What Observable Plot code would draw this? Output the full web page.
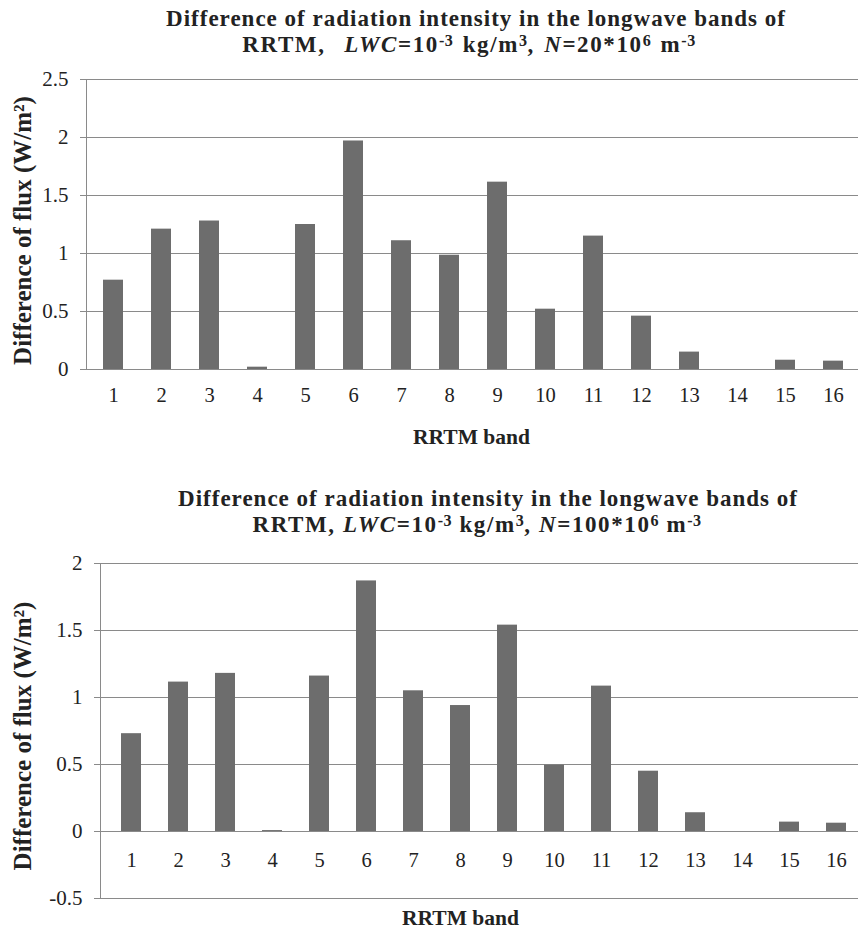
<!DOCTYPE html>
<html>
<head>
<meta charset="utf-8">
<script src="https://cdn.jsdelivr.net/npm/d3@7"></script>
<script src="https://cdn.jsdelivr.net/npm/@observablehq/plot@0.6"></script>
<style>
  html, body { margin: 0; padding: 0; background: #fff; overflow: hidden; }
  #wrap { position: relative; width: 858px; height: 930px; font-family: "Liberation Serif", "Times New Roman", serif; color: #222; }
  #wrap svg, #wrap svg text, #wrap svg tspan { font-family: "Liberation Serif", "Times New Roman", serif !important; }
  .t { position: absolute; width: 858px; text-align: center; font-weight: bold; font-size: 23px; letter-spacing: 1px; line-height: 26px; white-space: nowrap; }
  .t2 { letter-spacing: 1.6px; }
  .t sup { font-size: 0.7em; line-height: 0; vertical-align: 0.38em; letter-spacing: 0.5px; }
  .c { position: absolute; left: 0; }
</style>
</head>
<body>
<div id="wrap">
  <div class="t" style="top:6px;left:47px">Difference of radiation intensity in the longwave bands of</div>
  <div class="t t2" style="top:32px;left:40px;word-spacing:2px">RRTM,&nbsp; <i>LWC</i>=10<sup>-3</sup> kg/m<sup>3</sup>, <i>N</i>=20*10<sup>6</sup> m<sup>-3</sup></div>
  <div class="c" id="c1" style="top:60px"></div>
  <div class="t" style="top:486px;left:59px">Difference of radiation intensity in the longwave bands of</div>
  <div class="t t2" style="top:512px;left:48px">RRTM, <i>LWC</i>=10<sup>-3</sup> kg/m<sup>3</sup>, <i>N</i>=100*10<sup>6</sup> m<sup>-3</sup></div>
  <div class="c" id="c2" style="top:545px"></div>
</div>
<script>
const bands = [1, 2, 3, 4, 5, 6, 7, 8, 9, 10, 11, 12, 13, 14, 15, 16];
const fluxN20 = [0.77, 1.21, 1.28, 0.02, 1.25, 1.97, 1.11, 0.985, 1.615, 0.52, 1.15, 0.46, 0.15, 0, 0.08, 0.072];
const fluxN100 = [0.73, 1.115, 1.18, 0.007, 1.16, 1.87, 1.05, 0.94, 1.54, 0.495, 1.085, 0.45, 0.14, 0, 0.07, 0.062];
const ticksN20 = [0, 0.5, 1, 1.5, 2, 2.5];
const ticksN100 = [-0.5, 0, 0.5, 1, 1.5, 2];
const xTitle = "RRTM band";
const yTitle = "Difference of flux (W/m²)";

const GRID = "#8a8a8a";
const BAR = "#6d6d6d";
const FONT = "Liberation Serif, Times New Roman, serif";

function chart(o) {
  const data = bands.map((b, i) => ({band: b, value: o.values[i]}));
  return Plot.plot({
    width: 858,
    height: o.height,
    marginTop: o.marginTop,
    marginBottom: o.marginBottom,
    marginLeft: o.marginLeft,
    marginRight: o.marginRight,
    style: "font-family: 'Liberation Serif', 'Times New Roman', serif; font-size: 20px; color: #222; background: transparent;",
    x: {type: "band", domain: bands, paddingInner: 0.58, paddingOuter: 0.29, axis: null},
    y: {domain: o.domain, label: null},
    marks: [
      Plot.gridY(o.ticks, {stroke: GRID, strokeOpacity: 1}),
      Plot.axisY(o.ticks, {tickSize: 6, tickPadding: 12, stroke: GRID, fontSize: 21, fontFamily: FONT, label: null, tickFormat: d => String(d)}),
      Plot.frame({anchor: "left", stroke: GRID}),
      Plot.barY(data, {x: "band", y: "value", fill: BAR}),
      Plot.text(bands, {x: d => d, y: () => 0, dy: o.tickDy, text: d => String(d), fontSize: 20.5, fontFamily: FONT}),
      Plot.text([xTitle], {frameAnchor: "bottom", textAnchor: "middle", lineAnchor: "middle", dx: o.xlabDx, dy: o.xlabDy, fontWeight: "bold", fontSize: 21.5, fontFamily: FONT}),
      Plot.text([yTitle], {frameAnchor: "left", textAnchor: "middle", lineAnchor: "middle", rotate: -90, dx: o.ylabDx, dy: o.ylabDy, fontWeight: "bold", fontSize: 25, fontFamily: FONT})
    ]
  });
}

document.getElementById("c1").append(chart({
  values: fluxN20, ticks: ticksN20, domain: [0, 2.5],
  height: 390, marginTop: 19, marginBottom: 81, marginLeft: 86, marginRight: -2,
  tickDy: 26, xlabDx: -2, xlabDy: 68, ylabDx: -64, ylabDy: 6
}));
document.getElementById("c2").append(chart({
  values: fluxN100, ticks: ticksN100, domain: [-0.5, 2],
  height: 385, marginTop: 18, marginBottom: 32, marginLeft: 100, marginRight: -8,
  tickDy: 29, xlabDx: -23, xlabDy: 20, ylabDx: -78, ylabDy: 5
}));
</script>
</body>
</html>
